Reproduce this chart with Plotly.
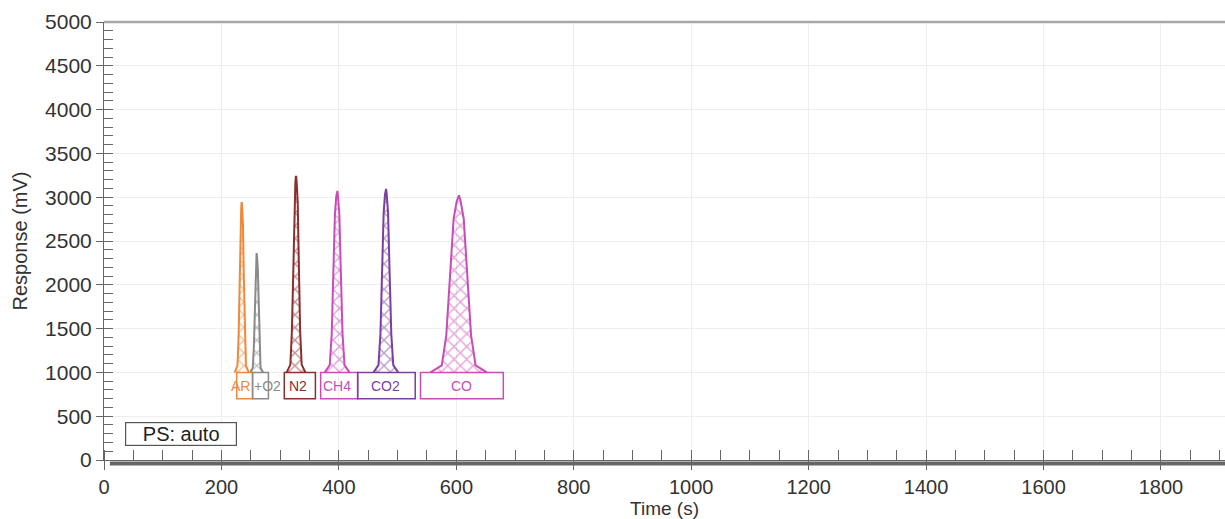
import plotly.graph_objects as go

# ---- data ----
peak_names = ["AR", "O2", "N2", "CH4", "CO2", "CO"]
peak_centers = [234.5, 260, 327, 397, 480, 604]          # s
peak_heights = [2934, 2352, 3234, 3071, 3094, 3014]      # mV (apex)
peak_base = [1000, 1000, 1000, 1000, 1000, 1000]         # mV (foot of peak)
peak_half_width = [12, 11, 16, 21, 21, 48]               # s, half width at foot
peak_colors = ["#F0883A", "#8A8A8A", "#8B2E2E", "#C84DB8", "#7B3FA0", "#C54DB5"]

# normalized peak profile read from the CO peak (fraction of height, fraction of half width)
profile_h = [0.0, 0.04, 0.21, 0.58, 0.87, 0.97, 1.0]
profile_w = [1.0, 0.60, 0.44, 0.29, 0.18, 0.07, 0.02]

box_left = [226, 253, 307, 369, 432, 539]
box_right = [253, 280, 360, 432, 530, 680]
box_bottom = 700
box_top = 1000

label_texts = ["AR", "+O2", "N2", "CH4", "CO2", "CO"]
label_x = [232, 278, 330, 397, 480, 608]
label_y = 840

x_ticks = [0, 200, 400, 600, 800, 1000, 1200, 1400, 1600, 1800]
y_ticks = [0, 500, 1000, 1500, 2000, 2500, 3000, 3500, 4000, 4500, 5000]

fig = go.Figure()

for name, c, h, b, hw, col in zip(peak_names, peak_centers, peak_heights,
                                   peak_base, peak_half_width, peak_colors):
    left_x = [c - hw * w for w in profile_w]
    left_y = [b + (h - b) * f for f in profile_h]
    right_x = [c + hw * w for w in reversed(profile_w)]
    right_y = list(reversed(left_y))
    xs = left_x + [c] + right_x
    ys = left_y + [h] + right_y
    fig.add_trace(go.Scatter(
        x=xs, y=ys, mode="lines", fill="toself", name=name,
        line=dict(color=col, width=2),
        fillcolor="rgba(0,0,0,0)",
        fillpattern=dict(shape="x", fgcolor=col, bgcolor="rgba(255,255,255,0)",
                         size=9, solidity=0.3, fillmode="overlay"),
        hoverinfo="skip", showlegend=False,
    ))

shapes = []
for l, r, col in zip(box_left, box_right, peak_colors):
    shapes.append(dict(type="rect", xref="x", yref="y", x0=l, x1=r,
                       y0=box_bottom, y1=box_top,
                       line=dict(color=col, width=1.5), fillcolor="rgba(0,0,0,0)"))

# thick baseline of the signal just under the axis
shapes.append(dict(type="line", xref="x", yref="paper", x0=10, x1=1909,
                   y0=-0.008, y1=-0.008, line=dict(color="#666666", width=4)))
# top frame line
shapes.append(dict(type="line", xref="paper", yref="paper", x0=0, x1=1,
                   y0=1, y1=1, line=dict(color="#a8a8a8", width=2.5)))

annotations = []
for t, x, col in zip(label_texts, label_x, peak_colors):
    annotations.append(dict(x=x, y=label_y, xref="x", yref="y", text=t,
                            showarrow=False,
                            font=dict(family="Arial", size=14, color=col)))

annotations.append(dict(x=0.0187, y=0.059, xref="paper", yref="paper",
                        text="PS: auto", showarrow=False, xanchor="left",
                        yanchor="middle", width=108, height=20, align="center",
                        font=dict(family="Arial", size=20, color="#222"),
                        bordercolor="#555", borderwidth=1.2, borderpad=1,
                        bgcolor="white"))

fig.update_layout(
    width=1225, height=519,
    margin=dict(l=104, r=0, t=22, b=59),
    plot_bgcolor="white", paper_bgcolor="white",
    shapes=shapes, annotations=annotations,
    font=dict(family="Arial", color="#333"),
    xaxis=dict(
        range=[0, 1909], tickvals=x_ticks, ticktext=[str(v) for v in x_ticks],
        showgrid=True, gridcolor="#eeeeee", gridwidth=1,
        showline=True, linecolor="#666", linewidth=1,
        ticks="outside", ticklen=9, tickcolor="#666",
        tickfont=dict(family="Arial", size=20, color="#333"),
        minor=dict(dtick=50, ticks="inside", ticklen=10, tickcolor="#666",
                   showgrid=False),
        zeroline=False, automargin=False,
        title=dict(text="Time (s)", font=dict(family="Arial", size=19, color="#333"),
                   standoff=6),
    ),
    yaxis=dict(
        range=[0, 5000], tickvals=y_ticks, ticktext=[str(v) for v in y_ticks],
        showgrid=True, gridcolor="#eeeeee", gridwidth=1,
        showline=True, linecolor="#666", linewidth=1,
        ticks="outside", ticklen=7, tickcolor="#666",
        tickfont=dict(family="Arial", size=21, color="#333"),
        minor=dict(dtick=100, ticks="inside", ticklen=9, tickcolor="#666",
                   showgrid=False),
        zeroline=False, automargin=False,
        title=dict(text="Response (mV)", font=dict(family="Arial", size=20, color="#333"),
                   standoff=12),
    ),
)

fig.write_html("out.html", config={"displayModeBar": False},
               post_script="document.body.style.margin='0px';")
